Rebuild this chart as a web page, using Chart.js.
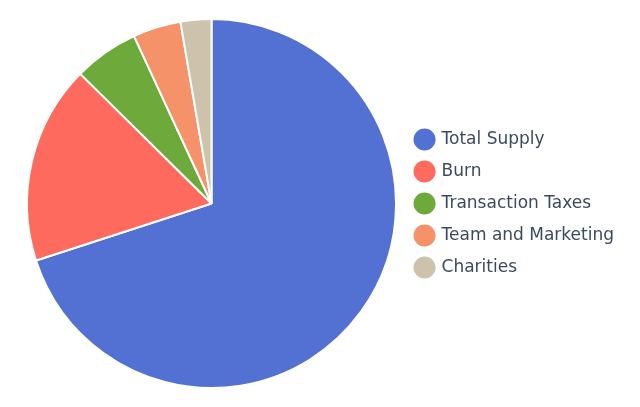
<!DOCTYPE html>
<html>
<head>
<meta charset="utf-8">
<script src="https://cdn.jsdelivr.net/npm/chart.js@4"></script>
<style>
  html, body { margin: 0; padding: 0; background: #fff; }
  #wrap { width: 640px; height: 407px; }
</style>
</head>
<body>
<div id="wrap"><canvas id="myChart"></canvas></div>
<script>
const labels = ['Total Supply', 'Burn', 'Transaction Taxes', 'Team and Marketing', 'Charities'];
const values = [70, 17.4, 5.7, 4.2, 2.7];
const colors = ['#5371d3', '#ff6a5e', '#6eaa3b', '#f5926a', '#cdc3ac'];

window.addEventListener('load', () => {
    const myChart = new Chart(document.getElementById('myChart'), {
        type: 'pie',
        data: {
            labels: labels,
            datasets: [{
                data: values,
                backgroundColor: colors,
                borderColor: '#ffffff',
                borderWidth: 2
            }]
        },
        options: {
            responsive: true,
            maintainAspectRatio: false,
            animation: false,
            layout: {
                padding: { top: 18, bottom: 18, left: 22, right: 16 }
            },
            plugins: {
                tooltip: { enabled: false },
                legend: {
                    position: 'right',
                    labels: {
                        usePointStyle: true,
                        pointStyle: 'circle',
                        boxWidth: 17,
                        boxHeight: 17,
                        padding: 15,
                        color: '#3b4b5f',
                        font: { family: 'DejaVu Sans', size: 17 }
                    }
                }
            }
        }
    });
});
</script>
</body>
</html>
